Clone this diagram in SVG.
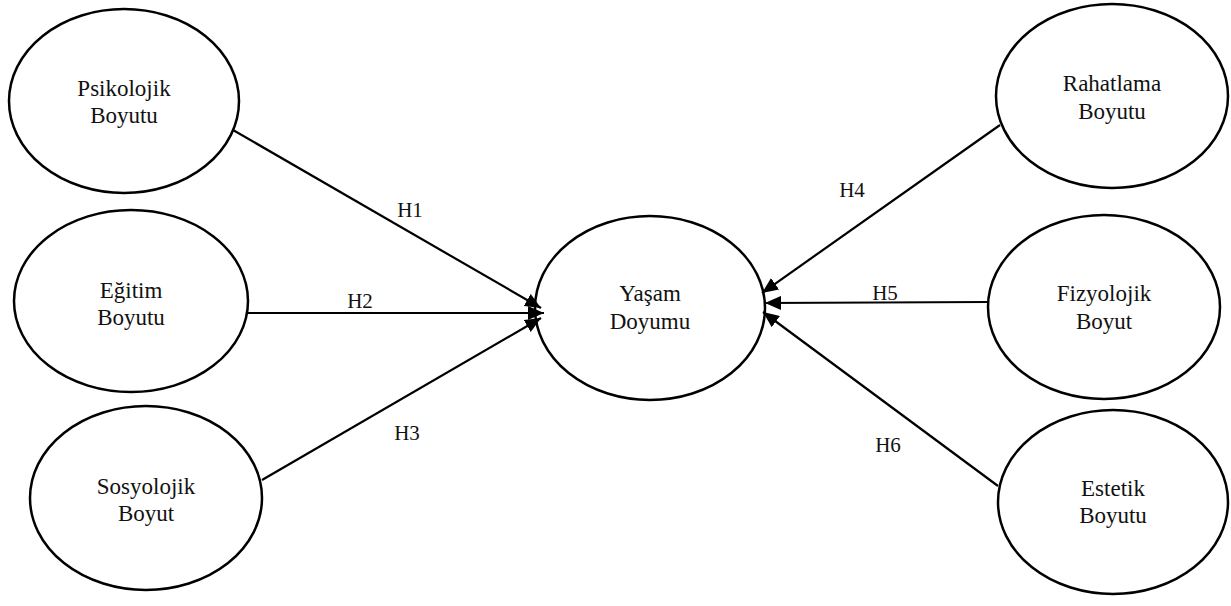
<svg xmlns="http://www.w3.org/2000/svg" width="1231" height="606" viewBox="0 0 1231 606">
<style>
.node ellipse{fill:#fff;stroke:#000;stroke-width:2.5}
.t{font-family:'Liberation Serif','Times New Roman',Times,serif;font-size:23px;fill:#111;text-anchor:middle}
.edges line{stroke:#000;stroke-width:2.2}
.lbl{font-size:21px}
</style>
<defs>
<marker id="ah" viewBox="0 0 16 14" refX="16" refY="7" markerWidth="16" markerHeight="14" markerUnits="userSpaceOnUse" orient="auto">
<path d="M0,0 L16,7 L0,14 Z" fill="#000"/>
</marker>
</defs>
<rect width="1231" height="606" fill="#fff"/>
<g id="psikolojik" class="node"><ellipse cx="124" cy="101" rx="115" ry="92"/><text class="t" x="124" y="96" font-family="Liberation Serif, serif">Psikolojik</text><text class="t" x="124" y="123" font-family="Liberation Serif, serif">Boyutu</text></g>
<g id="egitim" class="node"><ellipse cx="131" cy="301" rx="117" ry="91"/><text class="t" x="131" y="298" font-family="Liberation Serif, serif">Eğitim</text><text class="t" x="131" y="325" font-family="Liberation Serif, serif">Boyutu</text></g>
<g id="sosyolojik" class="node"><ellipse cx="146" cy="498" rx="116" ry="92"/><text class="t" x="146" y="494" font-family="Liberation Serif, serif">Sosyolojik</text><text class="t" x="146" y="521" font-family="Liberation Serif, serif">Boyut</text></g>
<g id="yasam" class="node"><ellipse cx="650" cy="308" rx="115" ry="92"/><text class="t" x="650" y="301" font-family="Liberation Serif, serif">Yaşam</text><text class="t" x="650" y="329" font-family="Liberation Serif, serif">Doyumu</text></g>
<g id="rahatlama" class="node"><ellipse cx="1112" cy="96" rx="116" ry="92"/><text class="t" x="1112" y="91" font-family="Liberation Serif, serif">Rahatlama</text><text class="t" x="1112" y="119" font-family="Liberation Serif, serif">Boyutu</text></g>
<g id="fizyolojik" class="node"><ellipse cx="1104" cy="307" rx="116" ry="92"/><text class="t" x="1104" y="301" font-family="Liberation Serif, serif">Fizyolojik</text><text class="t" x="1104" y="329" font-family="Liberation Serif, serif">Boyut</text></g>
<g id="estetik" class="node"><ellipse cx="1113" cy="502" rx="115" ry="92"/><text class="t" x="1113" y="496" font-family="Liberation Serif, serif">Estetik</text><text class="t" x="1113" y="523" font-family="Liberation Serif, serif">Boyutu</text></g>
<g id="connectors" class="edges">
<line x1="233" y1="130" x2="541" y2="308" marker-end="url(#ah)"/>
<line x1="248" y1="313" x2="544" y2="313" marker-end="url(#ah)"/>
<line x1="262" y1="480" x2="541" y2="318" marker-end="url(#ah)"/>
<line x1="1000" y1="125" x2="762" y2="293" marker-end="url(#ah)"/>
<line x1="988" y1="302" x2="765" y2="303" marker-end="url(#ah)"/>
<line x1="998" y1="486" x2="763" y2="312" marker-end="url(#ah)"/>
</g>
<g id="labels">
<text class="t lbl" x="410" y="217" font-family="Liberation Serif, serif">H1</text>
<text class="t lbl" x="360" y="308" font-family="Liberation Serif, serif">H2</text>
<text class="t lbl" x="407" y="440" font-family="Liberation Serif, serif">H3</text>
<text class="t lbl" x="852" y="197" font-family="Liberation Serif, serif">H4</text>
<text class="t lbl" x="885" y="300" font-family="Liberation Serif, serif">H5</text>
<text class="t lbl" x="888" y="452" font-family="Liberation Serif, serif">H6</text>
</g>
</svg>
